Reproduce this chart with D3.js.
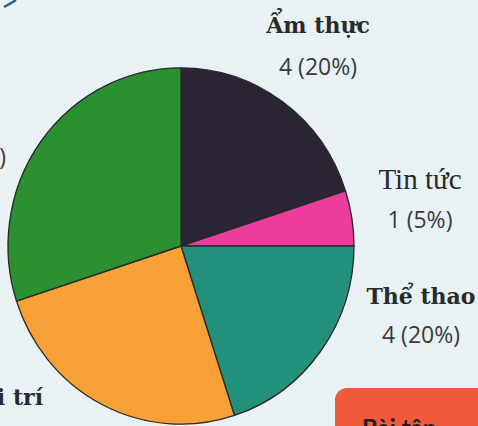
<!DOCTYPE html>
<html lang="vi">
    <head>
        <meta charset="utf-8">
        <title>Pie</title>
        <style>
          body { margin: 0; background: #e8f1f4; }
          svg { display: block; }
          .name { font-family: "DejaVu Serif", serif; font-size: 22px; fill: #2a2a2a; }
          .name.reg { font-family: "Liberation Serif", serif; font-size: 29px; }
          .name.bold { font-weight: bold; }
          .val { font-family: "Open Sans", sans-serif; font-size: 23px; fill: #3a3a3a; }
        </style>
        <script src="https://cdn.jsdelivr.net/npm/d3@7"></script>
    </head>
    <body>
        <script type="text/javascript">
          var w = 478;
          var h = 426;

          // data
          var categories = ["Ẩm thực", "Tin tức", "Thể thao", "Giải trí", "Học tập"];
          var values = [4, 1, 4, 5, 6];
          var percents = ["20%", "5%", "20%", "25%", "30%"];
          var colors = ["#2c2433", "#ec3d9e", "#23907b", "#f7a036", "#2c9030"];
          var boldName = [true, false, true, true, true];

          // label placement: x, name baseline, value baseline, anchor
          var labelPos = [
            [318, 33, 75, "middle"],
            [420, 189, 228, "middle"],
            [421, 304, 343, "middle"],
            [43, 405, 447, "end"],
            [-4, 124, 165, "end"]
          ];

          var svg = d3.select("body").append("svg")
            .attr("width", w)
            .attr("height", h);

          svg.append("rect").attr("width", w).attr("height", h).attr("fill", "#e8f1f4");

          // small blue stroke cut at the top-left
          svg.append("path")
            .attr("d", "M4,7 Q10,4 16,0")
            .attr("stroke", "#2d5f86")
            .attr("stroke-width", 2.5)
            .attr("fill", "none");

          var cx = 181, cy = 246, r = 173;

          var pie = d3.pie().sort(null).value(function(d) { return d; });
          var arc = d3.arc().innerRadius(0).outerRadius(r);

          var g = svg.append("g")
            .attr("transform", "translate(" + cx + "," + cy + ") scale(1,1.03)");

          g.selectAll("path")
            .data(pie(values))
            .enter().append("path")
            .attr("d", arc)
            .attr("fill", function(d, i) { return colors[i]; })
            .attr("stroke", "#2a2a2a")
            .attr("stroke-width", 1.3)
            .attr("stroke-linejoin", "round");

          var labels = svg.selectAll(".lab")
            .data(categories)
            .enter().append("g")
            .attr("class", "lab");

          labels.append("text")
            .attr("class", function(d, i) { return boldName[i] ? "name bold" : "name reg"; })
            .attr("x", function(d, i) { return labelPos[i][0]; })
            .attr("y", function(d, i) { return labelPos[i][1]; })
            .attr("text-anchor", function(d, i) { return labelPos[i][3]; })
            .text(function(d) { return d; });

          labels.append("text")
            .attr("class", "val")
            .attr("x", function(d, i) { return i == 4 ? 6 : labelPos[i][0]; })
            .attr("y", function(d, i) { return labelPos[i][2]; })
            .attr("text-anchor", function(d, i) { return labelPos[i][3]; })
            .text(function(d, i) { return values[i] + " (" + percents[i] + ")"; });

          // orange box at the bottom right, mostly cut off
          svg.append("rect")
            .attr("x", 335).attr("y", 388)
            .attr("width", 170).attr("height", 60)
            .attr("rx", 12)
            .attr("fill", "#f05a3c");
          svg.append("text")
            .attr("x", 362).attr("y", 437)
            .attr("font-family", "Lato, sans-serif")
            .attr("font-weight", "bold")
            .attr("font-size", 24)
            .attr("fill", "#2a1a1a")
            .text("Bài tập");
        </script>
    </body>
</html>
